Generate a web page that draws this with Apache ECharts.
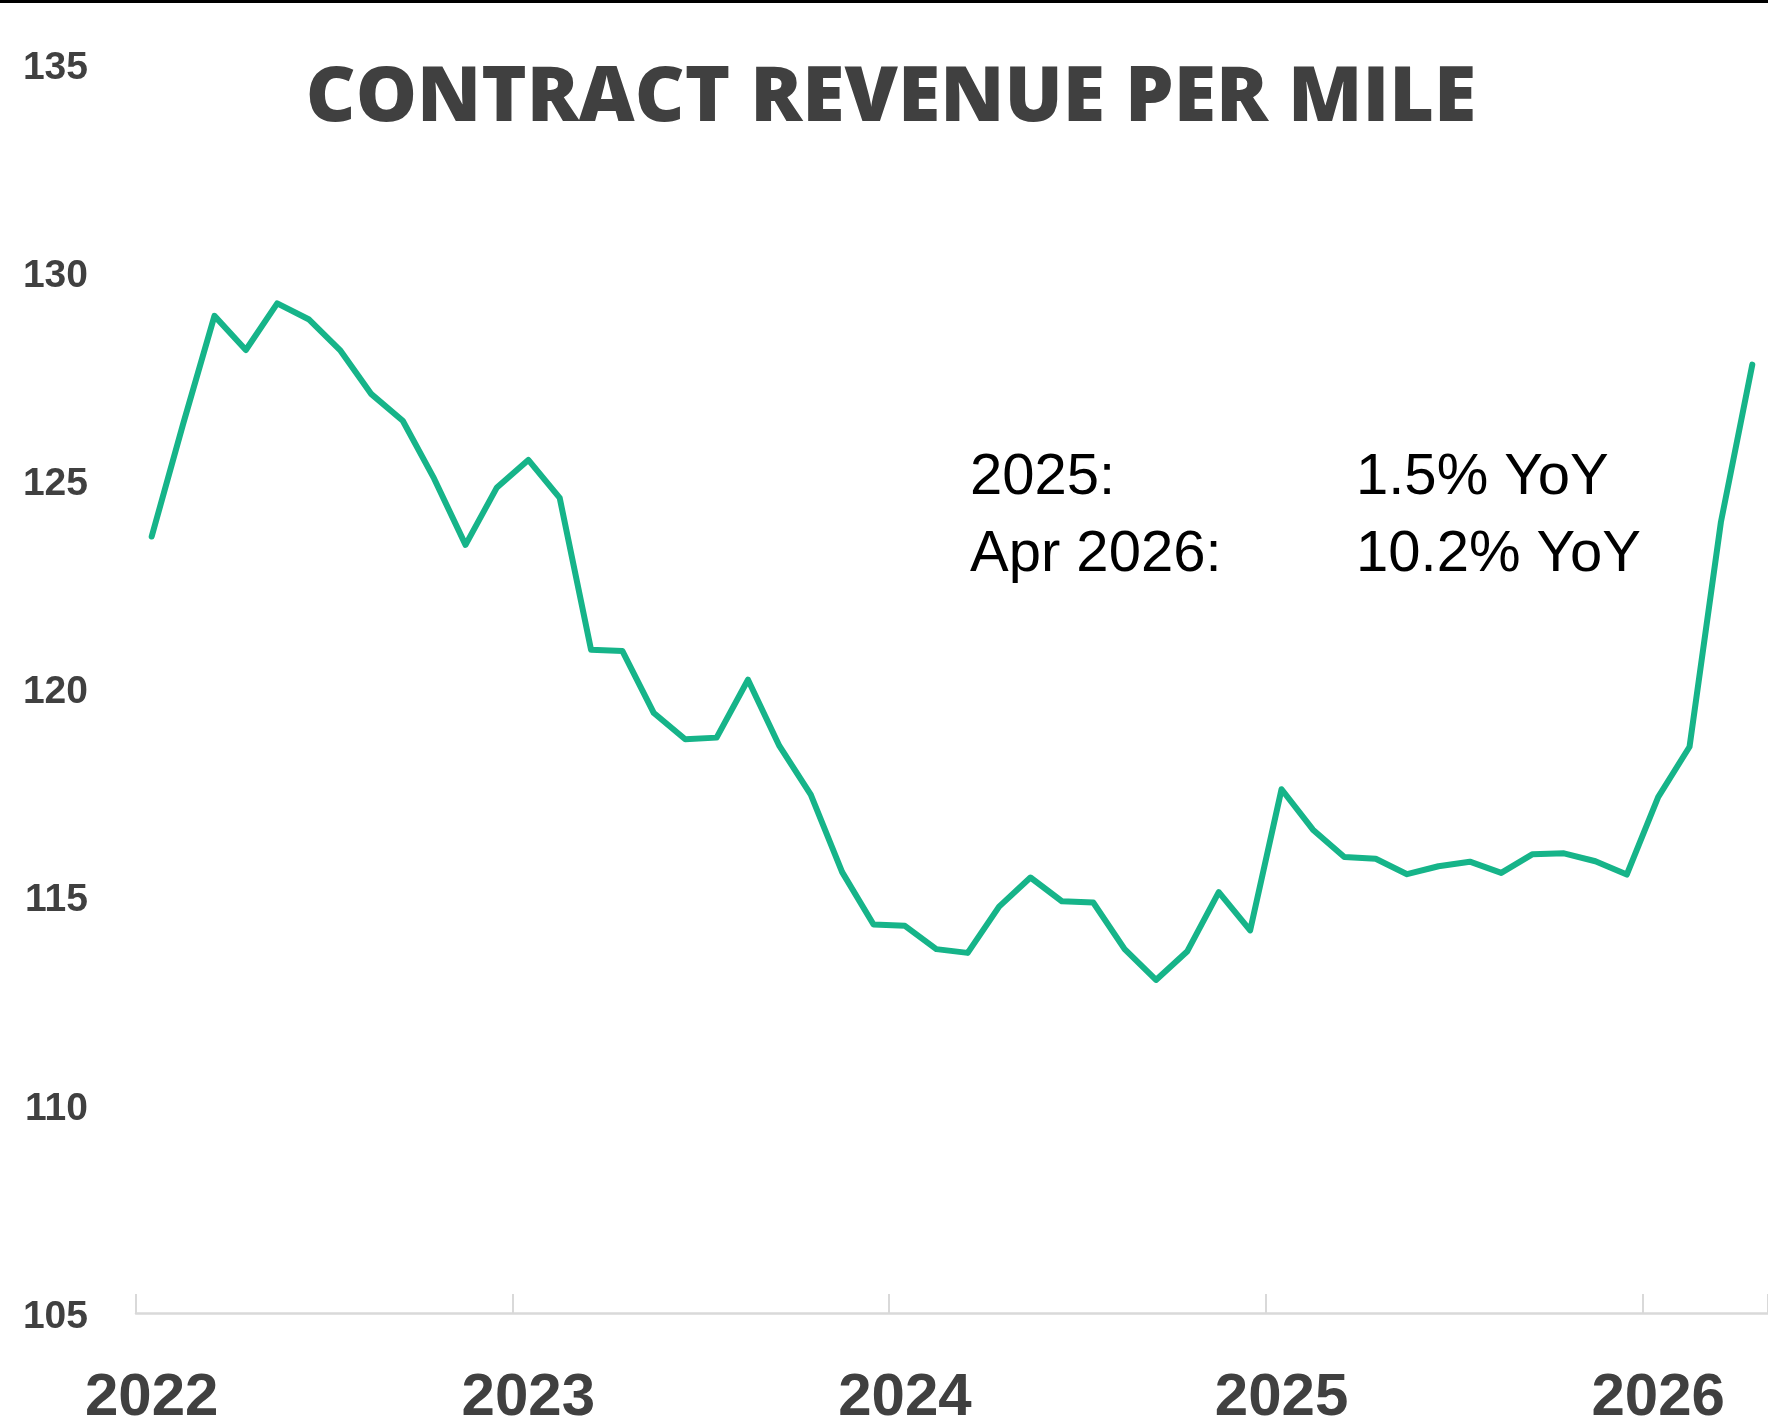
<!DOCTYPE html>
<html>
<head>
<meta charset="utf-8">
<title>Contract revenue per mile</title>
<script src="https://cdn.jsdelivr.net/npm/echarts@6/dist/echarts.min.js"></script>
<style>
    html, body { margin: 0; padding: 0; background: #fff; }
    #chart { width: 1768px; height: 1426px; }
</style>
</head>
<body>
<div id="chart"></div>
<script>
var months = [
    '2022-01', '2022-02', '2022-03', '2022-04', '2022-05', '2022-06', '2022-07', '2022-08', '2022-09', '2022-10', '2022-11', '2022-12',
    '2023-01', '2023-02', '2023-03', '2023-04', '2023-05', '2023-06', '2023-07', '2023-08', '2023-09', '2023-10', '2023-11', '2023-12',
    '2024-01', '2024-02', '2024-03', '2024-04', '2024-05', '2024-06', '2024-07', '2024-08', '2024-09', '2024-10', '2024-11', '2024-12',
    '2025-01', '2025-02', '2025-03', '2025-04', '2025-05', '2025-06', '2025-07', '2025-08', '2025-09', '2025-10', '2025-11', '2025-12',
    '2026-01', '2026-02', '2026-03', '2026-04'
];

var revenuePerMile = [
    123.65, 126.35, 128.95, 128.13, 129.25, 128.87, 128.13, 127.07, 126.43, 125.04, 123.45, 124.83,
    125.49, 124.58, 120.93, 120.90, 119.41, 118.78, 118.82, 120.21, 118.62, 117.45, 115.59, 114.33,
    114.30, 113.74, 113.65, 114.76, 115.46, 114.89, 114.86, 113.74, 113.00, 113.69, 115.11, 114.19,
    117.58, 116.61, 115.95, 115.91, 115.54, 115.73, 115.84, 115.57, 116.02, 116.04, 115.85, 115.53,
    117.39, 118.60, 124.00, 127.78
];

var yTicks = { min: 105, max: 135, step: 5 };

var titleText = 'CONTRACT REVENUE PER MILE';
var noteLabels = ['2025:', 'Apr 2026:'];
var noteValues = ['1.5% YoY', '10.2% YoY'];

var myChart = echarts.init(document.getElementById('chart'));

var notes = [];
noteLabels.forEach(function (label, i) {
    notes.push({
        type: 'text', x: 970, y: 478 + i * 77,
        style: { text: label, font: '58px "Liberation Sans", Arial, sans-serif', fill: '#000', textVerticalAlign: 'middle' }
    });
    notes.push({
        type: 'text', x: 1356, y: 478 + i * 77,
        style: { text: noteValues[i], font: '58px "Liberation Sans", Arial, sans-serif', fill: '#000', textVerticalAlign: 'middle' }
    });
});

var option = {
    animation: false,
    backgroundColor: '#fff',
    grid: {
        left: 136,
        right: 0,
        top: 64,
        bottom: 113,
        outerBoundsMode: 'none',
        containLabel: false
    },
    graphic: [{
        type: 'rect',
        shape: { x: 0, y: 0, width: 1768, height: 3 },
        style: { fill: '#000' }
    }, {
        type: 'text',
        x: 891, y: 99,
        style: {
            text: titleText,
            font: '800 77px "Open Sans", sans-serif',
            fill: '#404040',
            textAlign: 'center',
            textVerticalAlign: 'middle'
        }
    }].concat(notes),
    xAxis: {
        type: 'category',
        data: months,
        boundaryGap: true,
        axisLine: {
            show: true,
            lineStyle: { color: '#d9d9d9', width: 2.5 }
        },
        axisTick: {
            show: true,
            inside: true,
            length: 19,
            interval: function (index) { return index % 12 === 0; },
            lineStyle: { color: '#d9d9d9', width: 2 }
        },
        axisLabel: {
            interval: function (index) { return index % 12 === 0; },
            formatter: function (value) { return value.slice(0, 4); },
            margin: 55,
            color: '#404040',
            fontFamily: '"Liberation Sans", Arial, sans-serif',
            fontWeight: 'bold',
            fontSize: 60
        },
        splitLine: { show: false }
    },
    yAxis: {
        type: 'value',
        min: yTicks.min,
        max: yTicks.max,
        interval: yTicks.step,
        axisLine: { show: false },
        axisTick: { show: false },
        splitLine: { show: false },
        axisLabel: {
            margin: 48,
            formatter: '{v|{value}}',
            rich: {
                v: {
                    padding: [8, 0, 0, 0],
                    color: '#404040',
                    fontFamily: '"Liberation Sans", Arial, sans-serif',
                    fontWeight: 'bold',
                    fontSize: 39
                }
            }
        }
    },
    series: [{
        type: 'line',
        data: revenuePerMile,
        symbol: 'none',
        lineStyle: { color: '#16b489', width: 6, join: 'round', cap: 'round' }
    }]
};
myChart.setOption(option);
</script>
</body>
</html>
